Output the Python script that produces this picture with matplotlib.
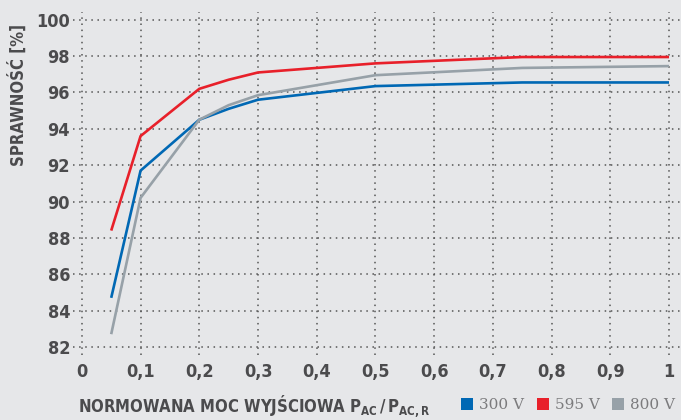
import matplotlib
matplotlib.use("Agg")
import matplotlib.pyplot as plt
from matplotlib.patches import Patch

# normalised output power P_AC / P_AC,R
load = [0.05, 0.1, 0.2, 0.25, 0.3, 0.5, 0.75, 1.0]
eff_300 = [84.7, 91.7, 94.5, 95.1, 95.6, 96.35, 96.55, 96.55]
eff_595 = [88.4, 93.6, 96.2, 96.7, 97.1, 97.6, 97.95, 97.95]
eff_800 = [82.7, 90.2, 94.5, 95.3, 95.85, 96.95, 97.35, 97.45]

series_labels = ["300 V", "595 V", "800 V"]
series_colors = ["#0068b4", "#e8202a", "#97a1a8"]

xticks = [0, 0.1, 0.2, 0.3, 0.4, 0.5, 0.6, 0.7, 0.8, 0.9, 1.0]
xtick_labels = ["0", "0,1", "0,2", "0,3", "0,4", "0,5", "0,6", "0,7", "0,8", "0,9", "1"]
yticks = list(range(82, 101, 2))

bg = "#e6e7e9"
txt = "#4b4b4d"
plt.rcParams['font.family'] = ['DejaVu Sans']
plt.rcParams['font.stretch'] = 'condensed'

fig = plt.figure(figsize=(6.81, 4.2), dpi=100, facecolor=bg)
ax = fig.add_axes([0.107, 0.155, 0.893, 0.817], facecolor=bg)

for y, c, lab in zip([eff_300, eff_595, eff_800], series_colors, series_labels):
    ax.plot(load, y, color=c, lw=1.9, label=lab, solid_capstyle='butt')

ax.set_xlim(-0.0153, 1.0204)
ax.set_ylim(81.56, 100.44)
ax.set_xticks(xticks)
ax.set_xticklabels(xtick_labels)
ax.set_yticks(yticks)
for s in ax.spines.values():
    s.set_visible(False)
ax.tick_params(length=0, colors=txt, labelsize=13)
ax.tick_params(axis='x', pad=6)
ax.tick_params(axis='y', pad=2)
for lbl in ax.get_xticklabels() + ax.get_yticklabels():
    lbl.set_fontweight('bold')
    lbl.set_fontstretch('condensed')
ax.grid(True, color="#555555", linestyle=(0, (1, 3)), linewidth=1.1)
ax.set_axisbelow(True)

fig.text(0.026, 0.775, "SPRAWNOŚĆ [%]", rotation=90, ha='center', va='center',
         color=txt, fontsize=12, fontweight='bold', fontstretch='condensed')
fig.text(0.114, 0.033, r"NORMOWANA MOC WYJŚCIOWA $\mathbf{P_{AC}\,/\,P_{AC,R}}$",
         ha='left', va='center', color=txt, fontsize=12, fontweight='bold',
         fontstretch='condensed')

handles = [Patch(facecolor=c, edgecolor='none') for c in series_colors]
leg = fig.legend(handles, series_labels, loc='center right', bbox_to_anchor=(1.012, 0.035),
                 ncol=3, frameon=False, handlelength=0.8, handleheight=0.85,
                 handletextpad=0.4, columnspacing=0.8,
                 prop={'family': 'DejaVu Serif', 'size': 11, 'stretch': 'normal'})
for t in leg.get_texts():
    t.set_color("#7b7b7d")

fig.savefig("out.png", dpi=100, facecolor=bg)
